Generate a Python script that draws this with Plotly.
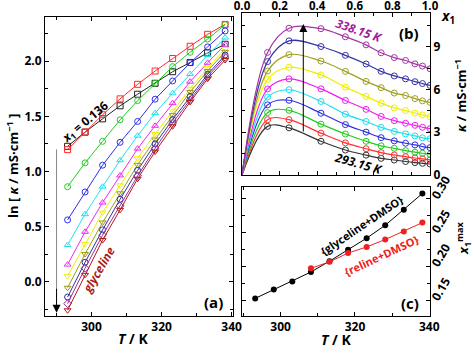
import numpy as np
import plotly.graph_objects as go

# ---------------- data ----------------
T = [293.15, 298.15, 303.15, 308.15, 313.15, 318.15, 323.15, 328.15, 333.15, 338.15]

# mole fractions of glyceline (x1)
x1 = [0.136, 0.25, 0.42, 0.55, 0.66, 0.74, 0.81, 0.87, 0.92, 0.96, 1.0]
x1_curve = [0.0] + x1
kappa_at_zero = 0.0

# ln(kappa / mS cm-1) for each composition, at each T
ln_k_0136 = [1.228, 1.357, 1.477, 1.595, 1.700, 1.799, 1.904, 1.988, 2.075, 2.153]
ln_k_025 = [1.198, 1.357, 1.514, 1.658, 1.790, 1.910, 2.024, 2.135, 2.243, 2.333]
ln_k_042 = [0.862, 1.078, 1.273, 1.468, 1.642, 1.800, 1.950, 2.080, 2.200, 2.330]
ln_k_055 = [0.561, 0.814, 1.057, 1.264, 1.453, 1.655, 1.820, 1.985, 2.129, 2.273]
ln_k_066 = [0.333, 0.613, 0.862, 1.102, 1.324, 1.529, 1.709, 1.883, 2.054, 2.213]
ln_k_074 = [0.156, 0.453, 0.718, 0.964, 1.207, 1.414, 1.619, 1.814, 1.985, 2.150]
ln_k_081 = [0.051, 0.342, 0.628, 0.874, 1.120, 1.340, 1.550, 1.750, 1.940, 2.110]
ln_k_087 = [-0.054, 0.252, 0.538, 0.802, 1.060, 1.290, 1.510, 1.720, 1.910, 2.085]
ln_k_092 = [-0.138, 0.177, 0.471, 0.748, 1.010, 1.250, 1.470, 1.680, 1.880, 2.055]
ln_k_096 = [-0.198, 0.123, 0.423, 0.688, 0.960, 1.210, 1.440, 1.650, 1.860, 2.035]
ln_k_100 = [-0.258, 0.063, 0.378, 0.652, 0.934, 1.180, 1.410, 1.630, 1.840, 2.010]

ln_k_series = [ln_k_0136, ln_k_025, ln_k_042, ln_k_055, ln_k_066, ln_k_074,
               ln_k_081, ln_k_087, ln_k_092, ln_k_096, ln_k_100]

# panel (c): composition at conductivity maximum
T_gly = [293.15, 298.15, 303.15, 308.15, 313.15, 318.15, 323.15, 328.15, 333.15, 338.15]
xmax_gly = [0.153, 0.166, 0.178, 0.192, 0.208, 0.225, 0.242, 0.261, 0.284, 0.308]
T_rel = [308.15, 313.15, 318.15, 323.15, 328.15, 333.15, 338.15]
xmax_rel = [0.1975, 0.207, 0.220, 0.229, 0.240, 0.252, 0.265]

# ---------------- styles ----------------
comp_colors = ["#222222", "#FF2A2A", "#22CC22", "#2E2EE6", "#22E0EE", "#F028F0",
               "#F0F000", "#9A9A1A", "#30309A", "#9A2E9A", "#B01818"]
comp_symbols = ["square-open", "square-open", "circle-open", "circle-open",
                "triangle-up-open", "triangle-up-open", "triangle-down-open",
                "triangle-down-open", "circle-open", "diamond-open", "triangle-down-open"]
temp_colors = ["#333333", "#FF3030", "#22CC22", "#3030E0", "#20DDEE", "#F020F0",
               "#EEEE00", "#A0A020", "#3535A5", "#A535A5"]

FONT = "Open Sans"
fig = go.Figure()

# panel (a)
for s, col, sym in zip(ln_k_series, comp_colors, comp_symbols):
    fig.add_trace(go.Scatter(x=T, y=s, mode="lines+markers", xaxis="x", yaxis="y",
                             line=dict(color=col, width=1),
                             marker=dict(symbol=sym, size=6, color=col, line=dict(width=1, color=col)),
                             showlegend=False))

# panel (b)
ln_arr = np.array(ln_k_series)  # comp x T
kappa = np.exp(ln_arr).T  # T x comp
for i, col in enumerate(temp_colors):
    fig.add_trace(go.Scatter(x=x1_curve, y=[kappa_at_zero] + list(kappa[i]), mode="lines",
                             xaxis="x2", yaxis="y2",
                             line=dict(color=col, width=1.2, shape="spline", smoothing=1.0),
                             showlegend=False))
    fig.add_trace(go.Scatter(x=x1, y=list(kappa[i]), mode="markers", xaxis="x2", yaxis="y2",
                             marker=dict(symbol="circle-open", size=6, color=col, line=dict(width=1, color=col)),
                             showlegend=False))

# panel (c)
fig.add_trace(go.Scatter(x=T_gly, y=xmax_gly, mode="lines+markers", xaxis="x3", yaxis="y3",
                         line=dict(color="black", width=1), marker=dict(size=6, color="black"),
                         showlegend=False))
fig.add_trace(go.Scatter(x=T_rel, y=xmax_rel, mode="lines+markers", xaxis="x3", yaxis="y3",
                         line=dict(color="#F02020", width=1), marker=dict(size=6, color="#F02020"),
                         showlegend=False))

W, H = 474, 354
def dx(a, b):
    return [a / W, b / W]
def dy(top, bot):
    return [1 - bot / H, 1 - top / H]

tickfont = dict(family=FONT, size=12, color="black", weight="bold")
common = dict(showline=True, linecolor="black", linewidth=1, mirror="allticks",
              ticks="inside", ticklen=4, tickwidth=1, tickcolor="black", automargin=False,
              showgrid=False, zeroline=False)

fig.update_layout(
    width=W, height=H, margin=dict(l=0, r=0, t=0, b=0, autoexpand=False),
    paper_bgcolor="white", plot_bgcolor="white",
    font=dict(family=FONT, color="black"),
    xaxis=dict(domain=dx(45, 233), anchor="y", range=[286.7, 340.4], dtick=20, tick0=300,
               tickfont=tickfont,
               minor=dict(ticks="inside", dtick=10, ticklen=3, tickcolor="black"), **common),
    yaxis=dict(domain=dy(17, 316), anchor="x", range=[-0.31, 2.40], dtick=0.5, tickformat=".1f",
               tickfont=tickfont,
               minor=dict(ticks="inside", dtick=0.25, ticklen=3, tickcolor="black"), **common),
    xaxis2=dict(domain=dx(242, 430), anchor="y2", side="top", range=[0, 1], dtick=0.2, tickformat=".1f",
                ticklabelstandoff=-3, tickfont=dict(family=FONT, size=11.5, color="black", weight="bold"),
                minor=dict(ticks="inside", dtick=0.1, ticklen=3, tickcolor="black"), **common),
    yaxis2=dict(domain=dy(12.7, 175), anchor="x2", side="right", range=[0, 11.4], dtick=3,
                tickfont=tickfont,
                minor=dict(ticks="inside", dtick=1.5, ticklen=3, tickcolor="black"), **common),
    xaxis3=dict(domain=dx(242, 430), anchor="y3", range=[289.6, 340.2], dtick=20, tick0=300,
                tickfont=tickfont,
                minor=dict(ticks="inside", dtick=10, ticklen=3, tickcolor="black"), **common),
    yaxis3=dict(domain=dy(186.7, 316), anchor="x3", side="right", range=[0.127, 0.318], dtick=0.05,
                tickformat=".2f", tickangle=-60, tickfont=tickfont,
                minor=dict(ticks="inside", dtick=0.025, ticklen=3, tickcolor="black"), **common),
)

def bold(size, color="black"):
    return dict(family=FONT, size=size, color=color, weight="bold")

ann = []
def label(x, y, text, size, color="black", angle=0):
    ann.append(dict(xref="paper", yref="paper", x=x / W, y=1 - y / H, text=text, textangle=angle,
                    xanchor="center", yanchor="middle", showarrow=False, font=bold(size, color)))

# axis titles
label(12, 166, "ln [ <i>κ</i> / mS·cm<sup>−1</sup> ]", 13, angle=-90)
label(133, 338, "<i>T</i> / K", 14)
label(336, 339, "<i>T</i> / K", 14)
label(448, 16, "<i>x</i><sub>1</sub>", 14)
label(461, 96, "<i>κ</i> / mS·cm<sup>−1</sup>", 13, angle=-90)
label(463, 238, "<i>x</i><sub>1</sub><sup>max</sup>", 13, angle=-90)
# panel labels
label(213, 302, "(a)", 15)
label(409, 33, "(b)", 15)
label(410, 303, "(c)", 15)
# panel (a) texts
label(85, 122, "<i>x</i><sub>1</sub> = 0.136", 12, angle=-40)
label(98, 270, "<i>glyceline</i>", 12, "#B01818", angle=-60)
# panel (b) texts
label(359, 30, "<i>338.15 K</i>", 12, "#A020A0", angle=19)
label(359, 163, "<i>293.15 K</i>", 12, angle=16)
# panel (c) texts
label(361, 225, "{glyceline+DMSO}", 11, angle=-34)
label(381, 255, "{reline+DMSO}", 11, "#F02020", angle=-25)

# arrows
ann.append(dict(xref="x", yref="y", axref="x", ayref="y", x=290, y=-0.28, ax=290, ay=-0.05,
                showarrow=True, arrowhead=2, arrowsize=1.6, arrowwidth=1, arrowcolor="black", text=""))
ann.append(dict(xref="x2", yref="y2", axref="x2", ayref="y2", x=0.326, y=10.6, ax=0.326, ay=2.95,
                showarrow=True, arrowhead=2, arrowsize=1.6, arrowwidth=1, arrowcolor="black", text=""))
fig.update_layout(annotations=ann)
fig.add_shape(type="line", xref="x", yref="y", x0=290, x1=290, y0=1.2, y1=-0.08,
              line=dict(color="#888888", width=1))

fig.write_html("out.html")
